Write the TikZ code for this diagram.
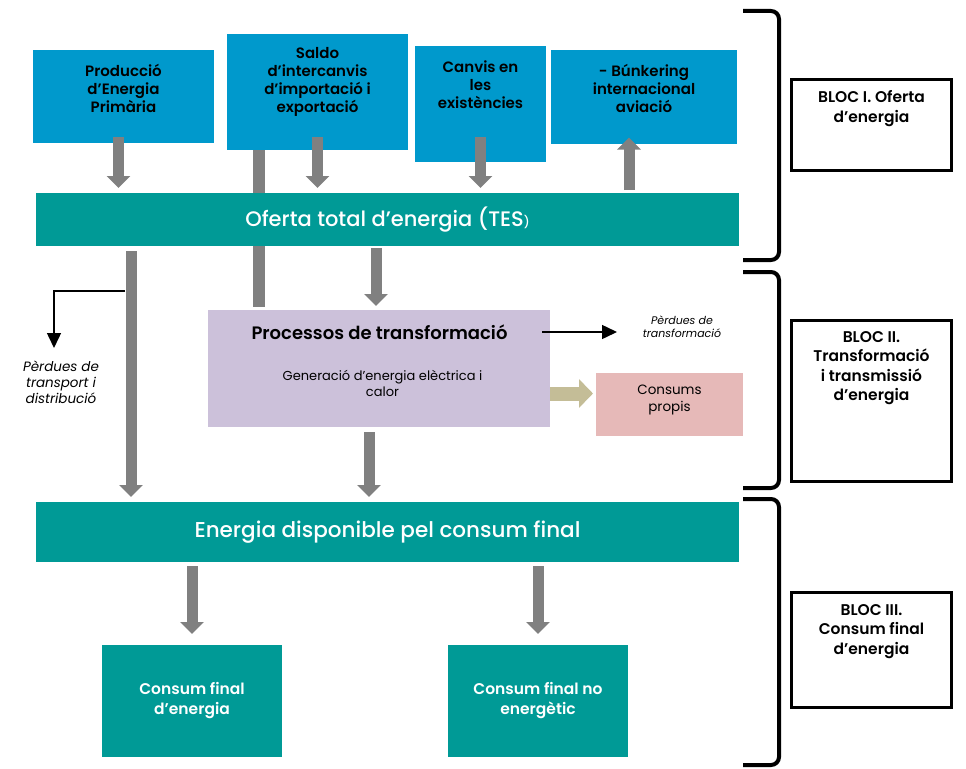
\documentclass[tikz,border=0pt]{standalone}
\usepackage{fontspec}
\setmainfont{Poppins}[BoldFont={Poppins SemiBold}]
\newfontfamily\medfont{Poppins Medium}
\usetikzlibrary{arrows.meta}
\definecolor{supblue}{HTML}{0099CC}
\definecolor{flowteal}{HTML}{009A96}
\definecolor{arrowgrey}{HTML}{808080}
\definecolor{translav}{HTML}{CCC1DA}
\definecolor{ownpink}{HTML}{E6B9B8}
\definecolor{ownkhaki}{HTML}{C4BD97}

\begin{document}
\begin{tikzpicture}[x=1pt,y=-1pt,
	box/.style={rectangle,inner sep=0pt,outer sep=0pt},
	supbox/.style={box,fill=supblue},
	suptext/.style={align=center,font=\fontsize{15}{18}\selectfont\bfseries},
	flowbar/.style={box,fill=flowteal,minimum width=703,text=white},
	finalbox/.style={box,fill=flowteal,minimum width=180,minimum height=112,text=white,align=center,font=\fontsize{15.5}{20}\selectfont\bfseries},
	blocbox/.style={box,draw=black,line width=3pt,fill=white,minimum width=160},
	bloctext/.style={align=center,font=\fontsize{15.5}{19.5}\selectfont\bfseries},
	losstext/.style={align=center,font=\itshape},
	flow/.style={draw=arrowgrey,line width=11pt,-{Triangle[length=12pt,width=23pt]}},
	greybar/.style={draw=arrowgrey,line width=12pt},
	lossline/.style={draw=black,line width=1.5pt,-{Triangle[length=15pt,width=14pt]}},
	ownarrow/.style={draw=ownkhaki,line width=14pt,-{Triangle[length=14pt,width=28pt]},shorten >=3pt},
	bracket/.style={draw=black,line width=4pt,rounded corners=8pt}]

	\useasboundingbox (0,0) rectangle (966,768);

	\node (prim) [supbox,minimum width=181,minimum height=93] at (123.5,96.5) {};
	\node (saldo) [supbox,minimum width=181,minimum height=116] at (317.5,92) {};
	\node (canvis) [supbox,minimum width=131,minimum height=116] at (480.5,104) {};
	\node (bunk) [supbox,minimum width=186,minimum height=93] at (644,97) {};
	\node (primtxt) [suptext] at ([yshift=8.5]prim.center) {Producció\\d’Energia\\Primària};
	\node (saldotxt) [suptext] at ([yshift=10.5]saldo.center) {Saldo\\d’intercanvis\\d’importació i\\exportació};
	\node (canvistxt) [suptext] at ([yshift=19]canvis.center) {Canvis en\\les\\existències};
	\node (bunktxt) [suptext] at ([yshift=9]bunk.center) {- Búnkering\\internacional\\aviació};

	\node (proc) [box,fill=translav,minimum width=342,minimum height=117] at (379,368.5) {};
	\node (procttl) [font=\fontsize{18}{20}\selectfont\bfseries] at (379.5,332) {Processos de transformació};
	\node (procsub) [align=center,font=\fontsize{13}{16}\selectfont] at (382.5,383) {Generació d’energia elèctrica i\\calor};
	\node (propis) [box,fill=ownpink,minimum width=147,minimum height=63] at (669.5,404.5) {};
	\node (propistxt) [align=center,font=\fontsize{13.5}{17}\selectfont] at (669.5,399.5) {Consums\\propis};

	\draw[greybar] ([xshift=-58.5]saldo.south) -- ([xshift=-58.5,yshift=3]saldo.south |- proc.north);

	\node (tes) [flowbar,minimum height=53,font=\fontsize{21}{24}\medfont] at (387.5,219.5) {Oferta total d’energia (TES{\fontsize{12}{14}\selectfont)}};
	\node (disp) [flowbar,minimum height=60,font=\fontsize{21.5}{24}\medfont] at (387.5,532) {Energia disponible pel consum final};
	\node (cfin) [finalbox] at (192,701) {Consum final\\d’energia};
	\node (cfne) [finalbox] at (538,701) {Consum final no\\energètic};

	\node (tdloss) [losstext,font=\fontsize{13.5}{16}\selectfont\itshape] at (61,382) {Pèrdues de\\transport i\\distribució};
	\node (trloss) [losstext,font=\fontsize{11}{13}\selectfont\itshape] at (682,326.5) {Pèrdues de\\transformació};
	\coordinate (tdtip) at (54,348);
	\coordinate (trtip) at (617,332);

	\node (blocI) [blocbox,minimum height=91] at (871.5,125) {};
	\node (blocII) [blocbox,minimum height=161] at (871.5,401) {};
	\node (blocIII) [blocbox,minimum height=115] at (871.5,650) {};
	\node (blocItxt) [bloctext] at (871.5,108.5) {BLOC I. Oferta\\d’energia};
	\node (blocIItxt) [bloctext] at (871.5,368) {BLOC II.\\Transformació\\i transmissió\\d’energia};
	\node (blocIIItxt) [bloctext] at (871.5,631.5) {BLOC III.\\Consum final\\d’energia};

	\draw[flow] ([xshift=-5,yshift=6]prim.south) -- ([xshift=-5,yshift=5]prim.south |- tes.north);
	\draw[flow] ([yshift=13]saldo.south) -- ([yshift=5]saldo.south |- tes.north);
	\draw[flow] ([yshift=25]canvis.south) -- ([yshift=5]canvis.south |- tes.north);
	\draw[flow] ([xshift=-15,yshift=3]bunk.south |- tes.north) -- ([xshift=-15,yshift=6]bunk.south);
	\draw[flow] ([xshift=95,yshift=-5]tes.south west) -- ([xshift=95,yshift=5]tes.south west |- disp.north);
	\draw[flow] ([xshift=-11.5,yshift=-2]tes.south) -- ([xshift=-11.5,yshift=4]tes.south |- proc.north);
	\draw[flow] ([xshift=-10,yshift=-5]proc.south) -- ([xshift=-10,yshift=5]proc.south |- disp.north);
	\draw[flow] ([yshift=-4]cfin.north |- disp.south) -- ([yshift=11]cfin.north);
	\draw[flow] ([yshift=-4]cfne.north |- disp.south) -- ([yshift=11]cfne.north);

	\draw[lossline] ([xshift=89,yshift=-45]tes.south west) -| (tdtip);
	\draw[lossline] ([xshift=-8]proc.east |- trtip) -- (trtip);
	\draw[ownarrow] ([yshift=-25]proc.east) -- ([yshift=-25]proc.east -| propis.west);

	\foreach \btop/\bbot in {11/260,272/488,499/765}
		\draw[bracket] (743,\btop) -- (779,\btop) -- (779,\bbot) -- (743,\bbot);

\end{tikzpicture}
\end{document}
